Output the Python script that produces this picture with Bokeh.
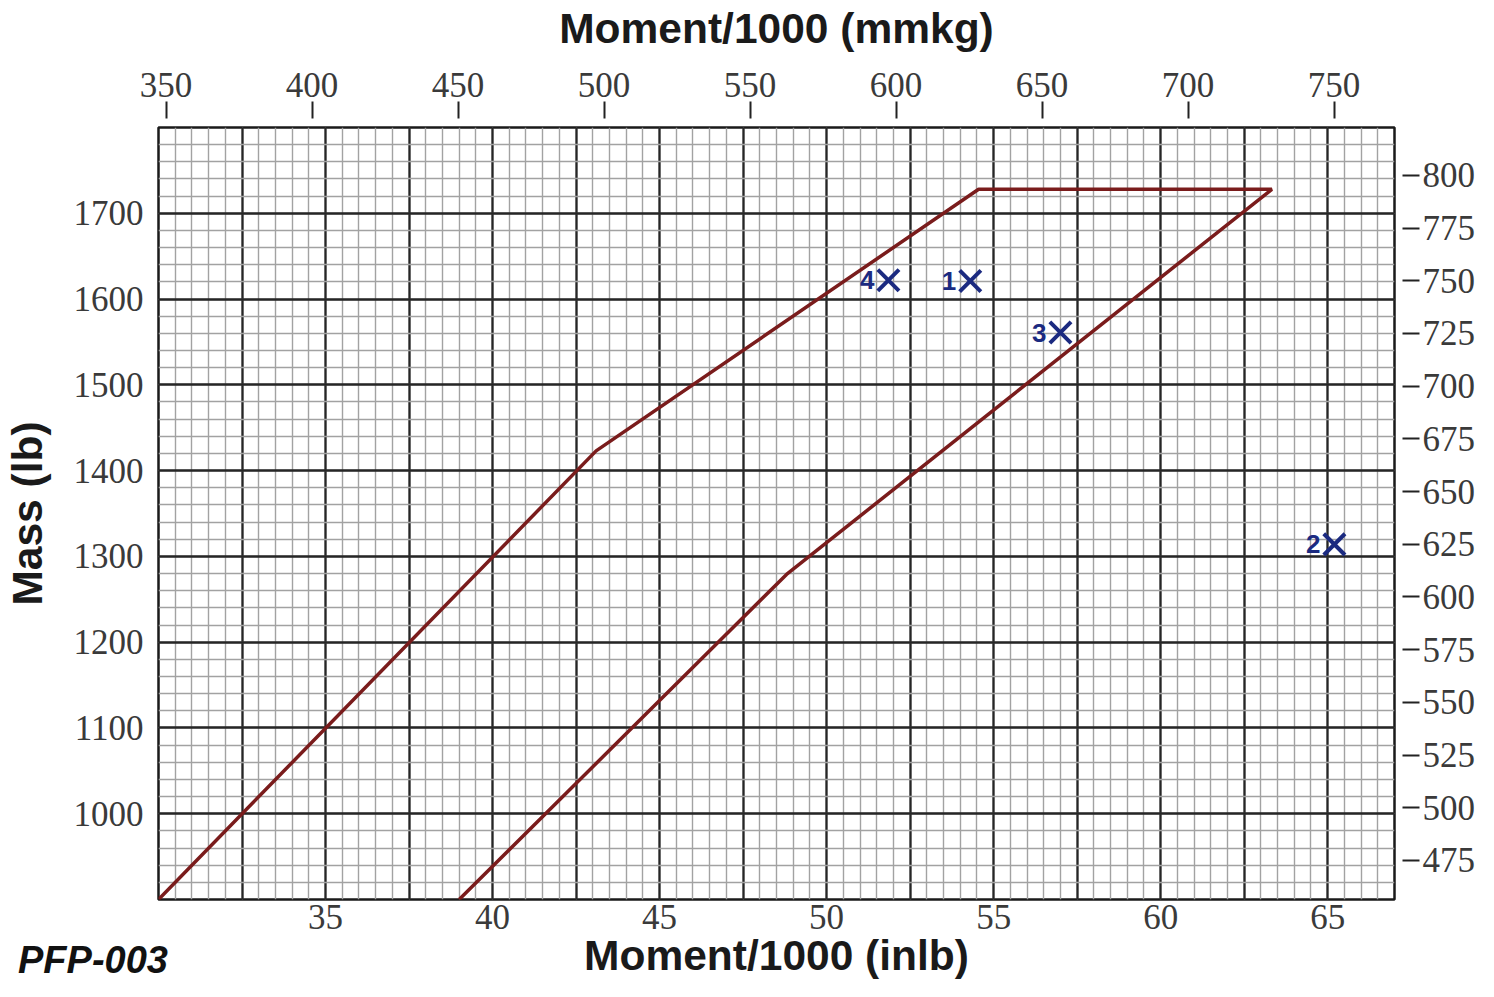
from bokeh.plotting import figure
from bokeh.models import Range1d, LinearAxis, FixedTicker, SingleIntervalTicker, Div
from bokeh.layouts import column
from bokeh.core.properties import value
from bokeh.embed import file_html
from bokeh.resources import INLINE

# ---- data ----
env_moment = [30.0, 43.1, 54.55, 63.33, 48.8, 39.0]      # Moment/1000 (inlb)
env_mass = [900, 1423, 1728, 1728, 1279, 900]             # Mass (lb)

pt_labels = ["1", "2", "3", "4"]
pt_moment = [54.3, 65.2, 57.0, 51.85]
pt_mass = [1621, 1314, 1561, 1622]

inlb_ticks = [35, 40, 45, 50, 55, 60, 65]
mass_ticks = [1000, 1100, 1200, 1300, 1400, 1500, 1600, 1700]
mmkg_ticks = [350, 400, 450, 500, 550, 600, 650, 700, 750]
kg_ticks = [475, 500, 525, 550, 575, 600, 625, 650, 675, 700, 725, 750, 775, 800]

LINE = "#7a1c1c"
NAVY = "#1b2a80"
SERIF = "Liberation Serif"
SANS = "Liberation Sans"

p = figure(width=1478, height=981,
           x_range=Range1d(30, 67), y_range=Range1d(900, 1800),
           output_backend="svg", toolbar_location=None,
           min_border_left=146, min_border_right=0,
           min_border_top=127, min_border_bottom=0)
p.extra_x_ranges = {"mm": Range1d(347.4, 770.7)}
p.extra_y_ranges = {"kg": Range1d(456.5, 822.7)}

p.background_fill_color = "white"
p.border_fill_color = "white"
p.outline_line_color = "#1a1a1a"
p.outline_line_width = 2.5

# grids (graph paper)
p.xgrid.ticker = SingleIntervalTicker(interval=2.5, num_minor_ticks=5)
p.ygrid.ticker = SingleIntervalTicker(interval=100, num_minor_ticks=5)
for g in (p.xgrid, p.ygrid):
    g.grid_line_color = "#262626"
    g.grid_line_width = 2.3
    g.minor_grid_line_color = "#a2a2a2"
    g.minor_grid_line_width = 1.4


def style_axis(ax):
    ax.axis_line_color = None
    ax.minor_tick_in = 0
    ax.minor_tick_out = 0
    ax.major_label_text_font = SERIF
    ax.major_label_text_font_size = "35px"
    ax.major_label_text_color = "#3a3a3a"
    ax.axis_label_text_font = SANS
    ax.axis_label_text_font_style = "bold"
    ax.axis_label_text_font_size = "42.5px"
    ax.axis_label_text_color = "#1a1a1a"


# bottom axis
xb = p.xaxis[0]
xb.ticker = FixedTicker(ticks=inlb_ticks, minor_ticks=[])
style_axis(xb)
xb.major_tick_in = 0
xb.major_tick_out = 0
xb.major_label_standoff = 5
xb.axis_label = "Moment/1000 (inlb)"
xb.axis_label_standoff = 0

# left axis
yl = p.yaxis[0]
yl.ticker = FixedTicker(ticks=mass_ticks, minor_ticks=[])
style_axis(yl)
yl.major_tick_in = 0
yl.major_tick_out = 0
yl.major_label_standoff = 15
yl.axis_label = "Mass (lb)"
yl.axis_label_standoff = 20

# top axis
xt = LinearAxis(x_range_name="mm", ticker=FixedTicker(ticks=mmkg_ticks, minor_ticks=[]))
style_axis(xt)
xt.major_tick_in = -9
xt.major_tick_out = 26
xt.major_tick_line_width = 2
xt.major_tick_line_color = "#222222"
xt.major_label_standoff = 5
xt.axis_label = "Moment/1000 (mmkg)"
xt.axis_label_standoff = 18
p.add_layout(xt, "above")

# right axis
yr = LinearAxis(y_range_name="kg", ticker=FixedTicker(ticks=kg_ticks, minor_ticks=[]))
style_axis(yr)
yr.major_tick_in = -8
yr.major_tick_out = 25
yr.major_tick_line_width = 2
yr.major_tick_line_color = "#222222"
yr.major_label_standoff = 3
p.add_layout(yr, "right")

# envelope
p.line(env_moment, env_mass, line_color=LINE, line_width=3.5)

# points
p.scatter(pt_moment, pt_mass, marker="x", size=30, line_width=4, line_color=NAVY)
p.text(x=pt_moment, y=pt_mass, text=pt_labels, x_offset=-14,
       text_align="right", text_baseline="middle",
       text_font=value(SANS), text_font_style="bold",
       text_font_size="26px", text_color=NAVY)

# chart id in the bottom-left corner, overlapping the figure's bottom margin
tag = Div(text='<span style="font-family: \'Liberation Sans\'; font-weight: bold; '
               'font-style: italic; font-size: 38px; color: #111111; '
               'line-height: 42px; white-space: nowrap;">PFP-003</span>',
          width=200, height=42, margin=(-42, 0, 0, 18))

layout = column(p, tag, spacing=0)

open("out.html", "w").write(file_html(layout, INLINE))
